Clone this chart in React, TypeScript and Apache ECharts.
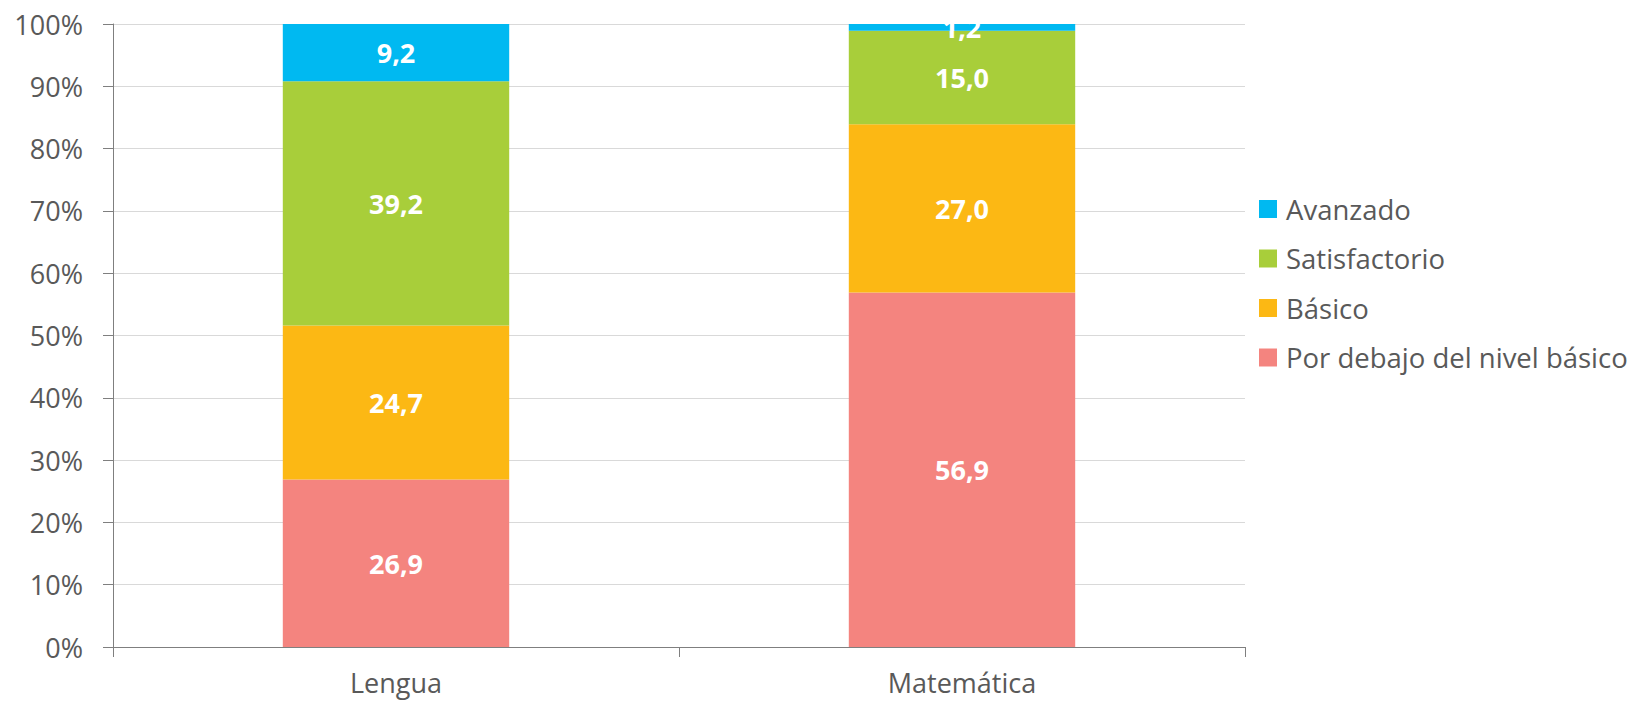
import React, { useEffect, useRef } from "react";
import * as echarts from "echarts";

const categories = ["Lengua", "Matemática"];
const seriesNames = ["Por debajo del nivel básico", "Básico", "Satisfactorio", "Avanzado"];
const porDebajo = [26.9, 56.9];
const basico = [24.7, 27.0];
const satisfactorio = [39.2, 15.0];
const avanzado = [9.2, 1.2];
const colors = ["#F4847F", "#FCB814", "#A8CE3A", "#00B9F1"];
const legendOrder = ["Avanzado", "Satisfactorio", "Básico", "Por debajo del nivel básico"];

const seriesData = [porDebajo, basico, satisfactorio, avanzado];

export default function App() {
  const ref = useRef<HTMLDivElement>(null);
  useEffect(() => {
    if (!ref.current) return;
    const chart = echarts.init(ref.current, undefined, { renderer: "svg" });
    const textFont = "'Open Sans', sans-serif";
    const labelFont = "'Open Sans', sans-serif";
    chart.setOption({
      animation: false,
      backgroundColor: "#ffffff",
      grid: { left: 113, right: 388, top: 24, bottom: 55, containLabel: false },
      legend: {
        orient: "vertical",
        left: 1259,
        top: 195,
        padding: 0,
        itemGap: 21.5,
        itemWidth: 18,
        itemHeight: 18,
        icon: "rect",
        data: legendOrder,
        textStyle: {
          fontFamily: textFont,
          fontSize: 27.5,
          lineHeight: 28,
          color: "#595959",
          padding: [0, 0, 0, 4],
        },
      },
      xAxis: {
        type: "category",
        data: categories,
        axisLine: { show: true, lineStyle: { color: "#7f7f7f", width: 1 } },
        axisTick: { show: true, length: 10, lineStyle: { color: "#7f7f7f" } },
        axisLabel: {
          fontFamily: textFont,
          fontSize: 27,
          color: "#595959",
          margin: 22,
        },
      },
      yAxis: {
        type: "value",
        min: 0,
        max: 100,
        interval: 10,
        axisLine: { show: true, lineStyle: { color: "#7f7f7f", width: 1 } },
        axisTick: { show: true, length: 10, lineStyle: { color: "#7f7f7f" } },
        splitLine: { show: true, lineStyle: { color: "#d9d9d9", width: 1 } },
        axisLabel: {
          fontFamily: textFont,
          fontSize: 27,
          color: "#595959",
          margin: 30,
          formatter: "{value}%",
        },
      },
      series: seriesNames.map((name, i) => ({
        name,
        type: "bar",
        stack: "total",
        barWidth: "40%",
        data: seriesData[i],
        itemStyle: { color: colors[i] },
        label: {
          show: true,
          position: "inside",
          color: "#ffffff",
          fontFamily: labelFont,
          fontWeight: "bold",
          fontSize: 27,
          formatter: (p: any) => Number(p.value).toFixed(1).replace(".", ","),
        },
      })),
      graphic: [
        {
          type: "rect",
          z: 100,
          shape: { x: 114, y: 0, width: 1140, height: 23.5 },
          style: { fill: "#ffffff" },
        },
      ],
    });
    return () => chart.dispose();
  }, []);
  return (
    <div
      ref={ref}
      style={{ position: "fixed", left: 0, top: 0, width: 1633, height: 702 }}
    />
  );
}
